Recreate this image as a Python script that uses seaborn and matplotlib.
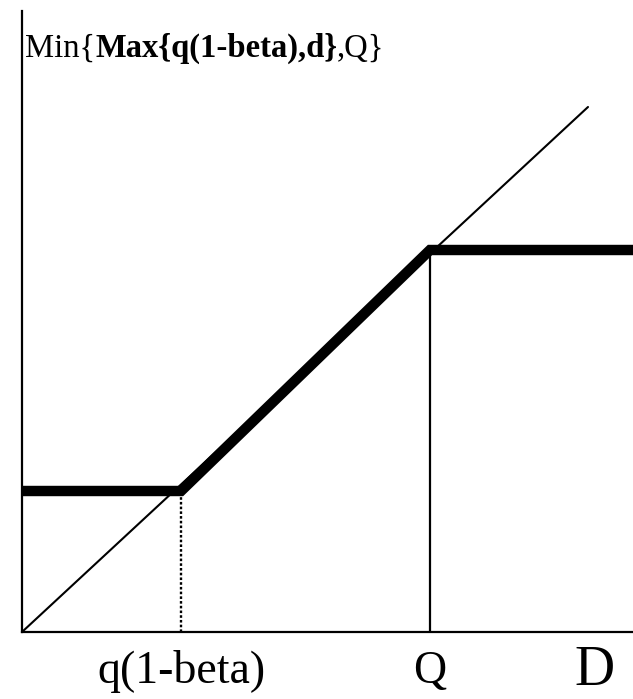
import matplotlib
matplotlib.use("Agg")
import matplotlib.pyplot as plt
import seaborn as sns
import pandas as pd

# ── Data (chart units: x = demand D, y = order quantity) ────
q_beta = 159          # q(1-beta) on the D axis
Q_cap = 408           # Q on the D axis
low_level = 141       # Max{q(1-beta), d} floor
high_level = 382      # Min{..., Q} ceiling

diag_x = [0, 566]     # 45-degree reference line
diag_y = [0, 525]

path_x = [0, q_beta, Q_cap, 611]
path_y = [low_level, low_level, high_level, high_level]

tick_pos = [q_beta, Q_cap]
tick_labels = ["q(1-beta)", "Q"]
axis_label_pos = 572  # where "D" sits on the x axis

sns.set_theme(style="white")
plt.rcParams["font.family"] = ["Liberation Serif", "DejaVu Serif"]
plt.rcParams["text.color"] = "black"

fig = plt.figure(figsize=(6.33, 6.99), dpi=100)
ax = fig.add_axes([22 / 633, 67 / 699, 611 / 633, 621 / 699])
ax.set_xlim(0, 611)
ax.set_ylim(0, 621)

# thin diagonal
sns.lineplot(x=diag_x, y=diag_y, color="black", linewidth=1.5, ax=ax, sort=False)

# guide verticals
ax.plot([q_beta, q_beta], [0, low_level], color="black", linewidth=1.7, linestyle=(0, (1.1, 0.9)))
ax.plot([Q_cap, Q_cap], [0, high_level], color="black", linewidth=1.6)

# thick Min{Max{...}} path
path_df = pd.DataFrame({"D": path_x, "val": path_y})
sns.lineplot(data=path_df, x="D", y="val", color="black", linewidth=7.5,
             sort=False, ax=ax, solid_capstyle="butt", solid_joinstyle="miter")

for side in ["top", "right"]:
    ax.spines[side].set_visible(False)
for side in ["left", "bottom"]:
    ax.spines[side].set_color("black")
    ax.spines[side].set_linewidth(1.6)

ax.set_xticks([])
ax.set_yticks([])
ax.set_xlabel("")
ax.set_ylabel("")

# x-axis labels
xt = ax.get_xaxis_transform()
for pos, lab in zip(tick_pos, tick_labels):
    ax.text(pos, -0.082, lab, transform=xt, ha="center", va="baseline",
            fontsize=33, color="black")
ax.text(axis_label_pos, -0.105, "D", transform=xt, ha="center", va="bottom",
        fontsize=40, color="black")

# title formula with bold middle part
t1 = ax.text(3, 0.926, "Min{", transform=xt, ha="left", va="baseline",
             fontsize=23.5, color="black")
t2 = ax.annotate("Max{q(1-beta),d}", xy=(1, 0.926), xycoords=(t1, "axes fraction"),
                 ha="left", va="baseline", fontsize=23.5, fontweight="bold", color="black")
t3 = ax.annotate(",Q}", xy=(1, 0.926), xycoords=(t2, "axes fraction"),
                 ha="left", va="baseline", fontsize=23.5, color="black")

fig.savefig("out.png", dpi=100)
